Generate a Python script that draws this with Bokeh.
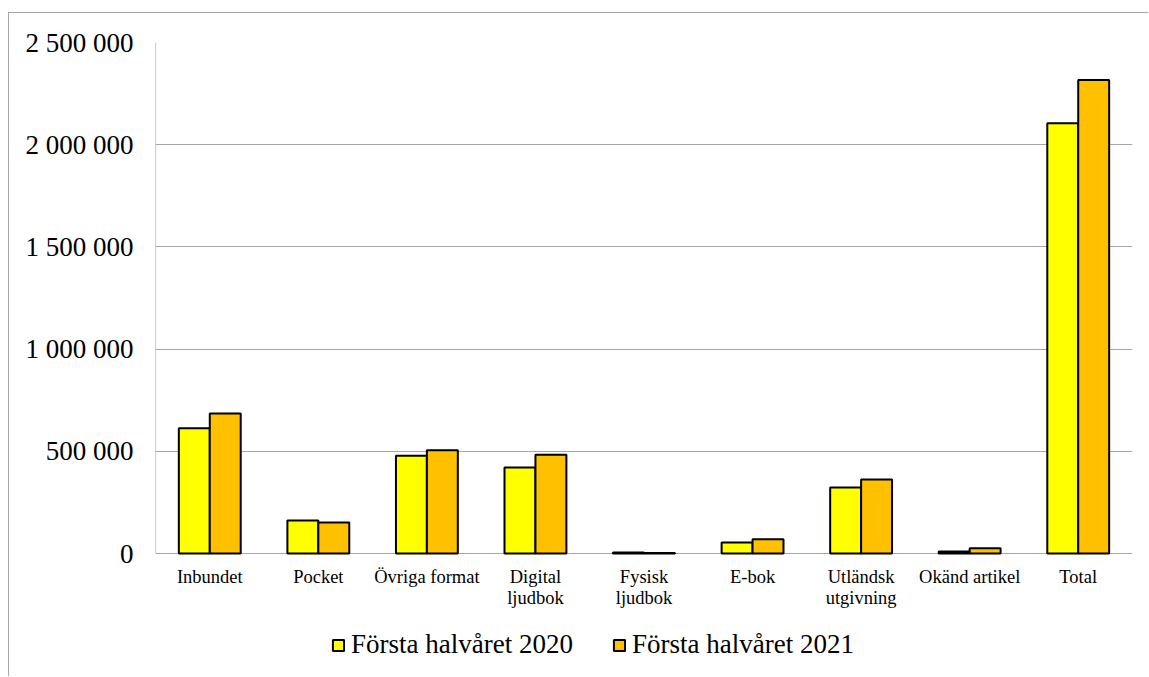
from bokeh.plotting import figure
from bokeh.models import (Range1d, Legend, LegendItem, ColumnDataSource, FixedTicker)
from bokeh.embed import file_html
from bokeh.resources import INLINE
from bokeh.core.properties import value

categories = ["Inbundet", "Pocket", "Övriga format", "Digital ljudbok", "Fysisk ljudbok",
              "E-bok", "Utländsk utgivning", "Okänd artikel", "Total"]
label_line1 = ["Inbundet", "Pocket", "Övriga format", "Digital", "Fysisk",
               "E-bok", "Utländsk", "Okänd artikel", "Total"]
label_line2 = ["", "", "", "ljudbok", "ljudbok", "", "utgivning", "", ""]
h1_2020 = [613000, 161000, 478000, 421000, 5000, 54000, 323000, 10000, 2105000]
h1_2021 = [685000, 152000, 505000, 483000, 3000, 70000, 362000, 26000, 2316000]
series_names = ["Första halvåret 2020", "Första halvåret 2021"]
y_ticks = [0, 500000, 1000000, 1500000, 2000000, 2500000]
y_tick_labels = ["0", "500 000", "1 000 000", "1 500 000", "2 000 000", "2 500 000"]

bw = 0.285
centers = [i + 0.5 for i in range(len(categories))]
src = ColumnDataSource(dict(cat=categories, xc=centers,
                            xa=[c - bw / 2 for c in centers], xb=[c + bw / 2 for c in centers],
                            a=h1_2020, b=h1_2021, l1=label_line1, l2=label_line2))

FONT = "Liberation Serif"
GRID = "#a6a6a6"

# layout: value area 511 px tall, 124 px of space below zero for labels and legend
H, TOP = 664, 29
value_px, below_px = 511, H - TOP - 511
y_max = y_ticks[-1]
y_min = -y_max * below_px / value_px

p = figure(x_range=Range1d(0, len(categories)), y_range=Range1d(y_min, y_max),
           width=1140, height=H, output_backend="svg", toolbar_location=None,
           min_border_left=146, min_border_right=17, min_border_top=TOP, min_border_bottom=0,
           styles={"margin-left": "8px", "margin-top": "12px",
                   "border-top": "1px solid #a6a6a6", "border-left": "1px solid #a6a6a6"})
p.outline_line_color = None
p.background_fill_color = "white"
p.xaxis.visible = False

p.xgrid.grid_line_color = None
p.ygrid.grid_line_color = GRID
p.ygrid.grid_line_width = 1.2
p.ygrid.ticker = FixedTicker(ticks=y_ticks)

# y axis line from 0 up to the top value
p.segment(x0=[0], y0=[0], x1=[0], y1=[y_max], line_color=GRID, line_width=1.2)

r1 = p.vbar(x="xa", top="a", width=bw, source=src,
            fill_color="#FFFF00", line_color="black", line_width=2)
r2 = p.vbar(x="xb", top="b", width=bw, source=src,
            fill_color="#FFC000", line_color="black", line_width=2)

# category labels (two lines)
p.text(x="xc", y=0, text="l1", source=src, y_offset=23, text_align="center",
       text_baseline="alphabetic", text_font=value(FONT), text_font_size="18.5px",
       text_color="black")
p.text(x="xc", y=0, text="l2", source=src, y_offset=44, text_align="center",
       text_baseline="alphabetic", text_font=value(FONT), text_font_size="18.5px",
       text_color="black")

ya = p.yaxis[0]
ya.ticker = FixedTicker(ticks=y_ticks)
ya.major_label_overrides = {t: l for t, l in zip(y_ticks, y_tick_labels)}
ya.axis_line_color = None
ya.major_tick_line_color = None
ya.minor_tick_line_color = None
ya.major_tick_in = 0
ya.major_tick_out = 0
ya.major_label_text_font = FONT
ya.major_label_text_color = "black"
ya.major_label_text_font_size = "27px"
ya.major_label_standoff = 22

legend = Legend(items=[LegendItem(label=series_names[0], renderers=[r1]),
                       LegendItem(label=series_names[1], renderers=[r2])],
                orientation="horizontal", location=(176, 17))
legend.label_text_font = FONT
legend.label_text_font_size = "27px"
legend.label_text_color = "black"
legend.glyph_width = 14
legend.glyph_height = 14
legend.label_height = 30
legend.label_standoff = 6
legend.spacing = 39
legend.padding = 0
legend.margin = 0
legend.border_line_color = None
legend.background_fill_alpha = 0
p.add_layout(legend, "center")

open("out.html", "w").write(file_html(p, INLINE))
